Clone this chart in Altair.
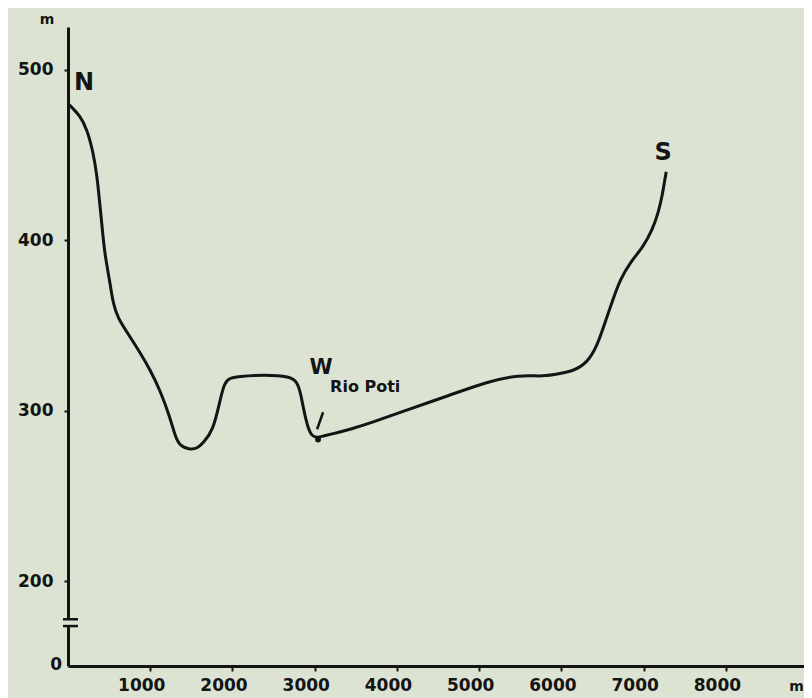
import altair as alt
import pandas as pd

# Profile N -> S (distance in m, elevation in m)
dist_m = [0, 24, 146, 231, 304, 353, 389, 426, 450, 511, 547, 608, 718, 876, 998,
          1119, 1241, 1302, 1363, 1484, 1580, 1642, 1764, 1849, 1900, 1960, 2056,
          2400, 2700, 2786, 2830, 2859, 2920, 2970, 3029, 3100, 3273, 3431, 3700,
          4039, 4647, 5097, 5499, 5742, 5900, 6144, 6314, 6436, 6533, 6618, 6715,
          6837, 6995, 7105, 7178, 7226, 7263, 7275]
elev_m = [480, 479, 473, 465, 452, 438, 420, 402, 391, 375, 363, 354, 346, 334, 324,
          312, 296, 285, 279, 277, 278, 281, 288, 306, 316, 319, 320,
          321, 320, 317, 310, 302, 289, 285, 284, 285, 287, 289, 293,
          299, 309, 317, 321, 320, 321, 323, 328, 338, 352, 364, 377,
          387, 396, 406, 416, 426, 437, 440]

x_ticks = [1000, 2000, 3000, 4000, 5000, 6000, 7000, 8000]
y_ticks = [200, 300, 400, 500]

BG = "#dce3d3"
INK = "#141414"
W, H = 736, 639

xscale = alt.Scale(domain=[0, 8950], nice=False, zero=False)
yscale = alt.Scale(domain=[0, 200, 525], range=[H, H - 85, 0], nice=False, zero=False)

xaxis = alt.Axis(values=x_ticks, format="d", title=None, grid=False, domainWidth=3,
                 domainColor=INK, tickColor=INK, tickWidth=2, tickSize=5, labelPadding=6,
                 labelOffset=-9,
                 labelFont="DejaVu Sans", labelFontSize=17, labelFontWeight="bold",
                 labelColor=INK, zindex=0)
yaxis = alt.Axis(values=y_ticks, format="d", title=None, grid=False, domainWidth=3,
                 domainColor=INK, tickColor=INK, tickWidth=2, tickSize=4, labelPadding=11,
                 labelFont="DejaVu Sans", labelFontSize=17, labelFontWeight="bold",
                 labelColor=INK, zindex=0)


def X(f="x"):
    return alt.X(f"{f}:Q", scale=xscale, axis=xaxis)


def Y(f="y"):
    return alt.Y(f"{f}:Q", scale=yscale, axis=yaxis)


profile = pd.DataFrame({"x": dist_m, "y": elev_m})

line = alt.Chart(profile).mark_line(color=INK, strokeWidth=3, interpolate="basis").encode(
    x=X(), y=Y())

# axis break on the y axis
mask = alt.Chart(pd.DataFrame({"y": [96], "y2": [109]})).mark_rect(color=BG).encode(
    x=alt.value(-4), x2=alt.value(4), y=Y(), y2="y2:Q")
breaks = alt.Chart(pd.DataFrame({"y": [94, 110]})).mark_rule(color=INK, strokeWidth=2.5).encode(
    x=alt.value(-5), x2=alt.value(10), y=Y())

# river marker
arrow = alt.Chart(pd.DataFrame({"x": [3102], "y": [299], "x2": [3029], "y2": [289]})).mark_rule(
    color=INK, strokeWidth=2.5).encode(x=X(), y=Y(), x2="x2:Q", y2="y2:Q")
dot = alt.Chart(pd.DataFrame({"x": [3041], "y": [283]})).mark_point(
    filled=True, color=INK, size=35, opacity=1).encode(x=X(), y=Y())


def label(txt, x, y, size, align="center", weight="bold"):
    return alt.Chart(pd.DataFrame({"x": [x], "y": [y], "t": [txt]})).mark_text(
        font="DejaVu Sans", fontSize=size, fontWeight=weight, color=INK,
        align=align, baseline="middle").encode(x=X(), y=Y(), text="t:N")


texts = [
    label("N", 195, 492, 24),
    label("S", 7238, 451, 24),
    label("W", 3078, 325, 21),
    label("Rio Poti", 3187, 314, 16, align="left"),
    label("m", -255, 529, 14),
    label("m", 8860, -50, 14),
    label("0", -73, 3, 17, align="right"),
]

chart = alt.layer(line, mask, breaks, arrow, dot, *texts).properties(
    width=W, height=H,
    autosize=alt.AutoSizeParams(type="none"),
    padding={"left": 60, "top": 19, "right": 0, "bottom": 32},
    background=BG,
).configure_view(stroke=None)

chart.save("out.html", embed_options={"renderer": "svg", "actions": False})
